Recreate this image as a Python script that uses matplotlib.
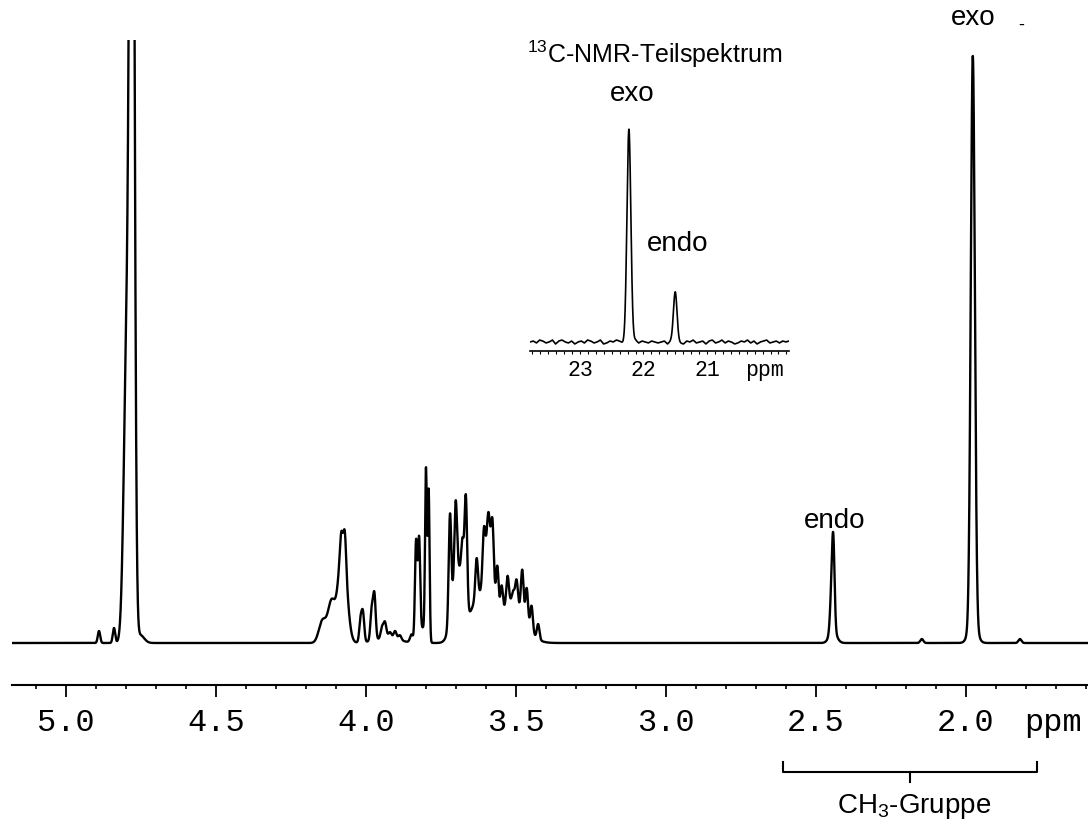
import numpy as np
import matplotlib.pyplot as plt
from matplotlib.ticker import MultipleLocator, FixedLocator, FormatStrFormatter

plt.rcParams['font.family'] = ['Liberation Sans', 'DejaVu Sans']
plt.rcParams['mathtext.fontset'] = 'custom'
plt.rcParams['mathtext.rm'] = 'Liberation Sans'
plt.rcParams['mathtext.it'] = 'Liberation Sans'

# 1H spectrum, peak list: centre (ppm), height, width (ppm)
h1_ppm = [4.890, 4.840, 4.780, 4.797, 4.753,
          4.078, 4.115, 4.145, 4.083, 4.070,
          4.018, 4.010, 3.981, 3.972, 3.947, 3.937, 3.920, 3.903, 3.887, 3.848, 3.930,
          3.833, 3.823, 3.800, 3.791, 3.810,
          3.693, 3.627, 3.590, 3.513,
          3.720, 3.701, 3.678, 3.667, 3.631, 3.607, 3.592, 3.578, 3.562, 3.548,
          3.528, 3.509, 3.498, 3.479, 3.464, 3.448, 3.426,
          2.448, 2.442, 2.443, 2.147,
          1.977, 1.977, 1.820]
h1_height = [12, 15, 1200, 300, 8,
             100, 40, 22, 15, 25,
             22, 28, 30, 45, 10, 16, 6, 8, 5, 8, 5,
             100, 98, 165, 150, 15,
             75, 45, 85, 42,
             104, 74, 44, 109, 39, 44, 26, 50, 47, 28,
             28, 10, 24, 44, 35, 26, 15,
             35, 80, 12, 4,
             565, 22, 4]
h1_width = [0.004, 0.004, 0.0073, 0.010, 0.0133,
            0.014, 0.012, 0.012, 0.004, 0.004,
            0.0043, 0.0043, 0.0043, 0.0043, 0.0043, 0.005, 0.005, 0.005, 0.005, 0.005, 0.040,
            0.0037, 0.0037, 0.003, 0.003, 0.010,
            0.0183, 0.0233, 0.0133, 0.040,
            0.0043, 0.0043, 0.0043, 0.0043, 0.0043, 0.0043, 0.0043, 0.0043, 0.0043, 0.0043,
            0.0043, 0.0043, 0.0043, 0.0043, 0.0043, 0.0043, 0.0043,
            0.005, 0.0043, 0.012, 0.005,
            0.0067, 0.0133, 0.005]

h1_ticks = [5.0, 4.5, 4.0, 3.5, 3.0, 2.5, 2.0]

# 13C inset peaks
c13_ppm = [22.23, 21.50]
c13_height = [212, 49]
c13_width = [0.031, 0.028]
c13_ticks = [23, 22, 21]
c13_noise = [0, 1, -1, 2, 1, -1, 0, 2, -2, 1, 2, 0, -1, 1, -2, 0, 1, -1, 2, 1,
             -1, 0, 2, -2, -1, 1, 0, 2, 1, -1, -2, 1, 0, 2, -1, 1, 0, -1, 1, 0,
             -1, 0, 1, -2, 1, 2, 0, -1, -2, 1, 0, 2, -1, 0, 1, -2, 1, 2, -1, 0,
             2, -1, 1, 0, -2, -1, 1, 0, 2, -1, 1, -2, 0, 1, 2, -1, 0, 1, -1, 1,
             0, 1]


def spectrum(x, centres, heights, widths):
    y = np.zeros_like(x)
    for c, h, w in zip(centres, heights, widths):
        y += h * np.exp(-0.5 * ((x - c) / w) ** 2)
    return y


fig = plt.figure(figsize=(10.88, 8.21), dpi=100)

# main 1H spectrum
ax = fig.add_axes([12 / 1088, 136 / 821, 1076 / 1088, 645 / 821])
x = np.linspace(5.18, 1.593, 24000)
ax.plot(x, spectrum(x, h1_ppm, h1_height, h1_width), color='black', lw=1.7)
ax.set_xlim(5.18, 1.593)
ax.set_ylim(-42, 603)
for side in ['top', 'left', 'right']:
    ax.spines[side].set_visible(False)
ax.spines['bottom'].set_linewidth(1.5)
ax.set_yticks([])
ax.xaxis.set_major_locator(FixedLocator(h1_ticks))
ax.xaxis.set_minor_locator(MultipleLocator(0.1))
ax.xaxis.set_major_formatter(FormatStrFormatter('%.1f'))
ax.tick_params(axis='x', which='major', direction='out', length=8.6, width=1.3,
               pad=8, labelsize=23, labelfontfamily='Liberation Mono')
ax.tick_params(axis='x', which='minor', direction='out', length=3, width=1.2)
ax.annotate('ppm', xy=(1.71, 0), xycoords=('data', 'axes fraction'),
            xytext=(0, -16.6), textcoords='offset points', ha='center', va='top',
            fontsize=23, family='Liberation Mono')

ax.text(1.977, 618, 'exo', ha='center', va='baseline', fontsize=20)
ax.text(1.815, 613, '-', ha='center', va='baseline', fontsize=13)
ax.text(2.437, 115, 'endo', ha='center', va='baseline', fontsize=20)

# CH3 bracket below the axis
ax.plot([2.61, 2.61, 1.763, 1.763], [-119, -129, -129, -119], color='black',
        lw=1.5, clip_on=False)
ax.plot([2.187, 2.187], [-129, -139], color='black', lw=1.5, clip_on=False)
ax.text(2.173, -170, 'CH$_3$-Gruppe', ha='center', va='baseline', fontsize=20)

# 13C inset
axi = fig.add_axes([530 / 1088, 470 / 821, 259 / 1088, 231 / 821])
xc = np.linspace(23.787, 19.709, 6000)
noise_ppm = np.linspace(23.787, 19.709, len(c13_noise))
yc = spectrum(xc, c13_ppm, c13_height, c13_width) + np.interp(xc, noise_ppm[::-1], c13_noise[::-1])
axi.plot(xc, yc, color='black', lw=1.2)
axi.set_xlim(23.787, 19.709)
axi.set_ylim(-9, 222)
axi.patch.set_alpha(0)
for side in ['top', 'left', 'right']:
    axi.spines[side].set_visible(False)
axi.spines['bottom'].set_linewidth(1.2)
axi.set_yticks([])
axi.xaxis.set_major_locator(FixedLocator(c13_ticks))
axi.xaxis.set_minor_locator(MultipleLocator(0.125))
axi.tick_params(axis='x', which='major', direction='out', length=2, width=0.8,
                pad=4.5, labelsize=15.5, labelfontfamily='Liberation Mono')
axi.tick_params(axis='x', which='minor', direction='out', length=2, width=0.8)
axi.annotate('ppm', xy=(20.1, 0), xycoords=('data', 'axes fraction'),
             xytext=(0, -6.5), textcoords='offset points', ha='center', va='top',
             fontsize=15.5, family='Liberation Mono')

axi.text(21.82, 279, '$^{13}$C-NMR-Teilspektrum', ha='center', va='baseline', fontsize=18)
axi.text(22.18, 241, 'exo', ha='center', va='baseline', fontsize=20)
axi.text(21.47, 91, 'endo', ha='center', va='baseline', fontsize=20)

fig.savefig('out.png', dpi=100)
